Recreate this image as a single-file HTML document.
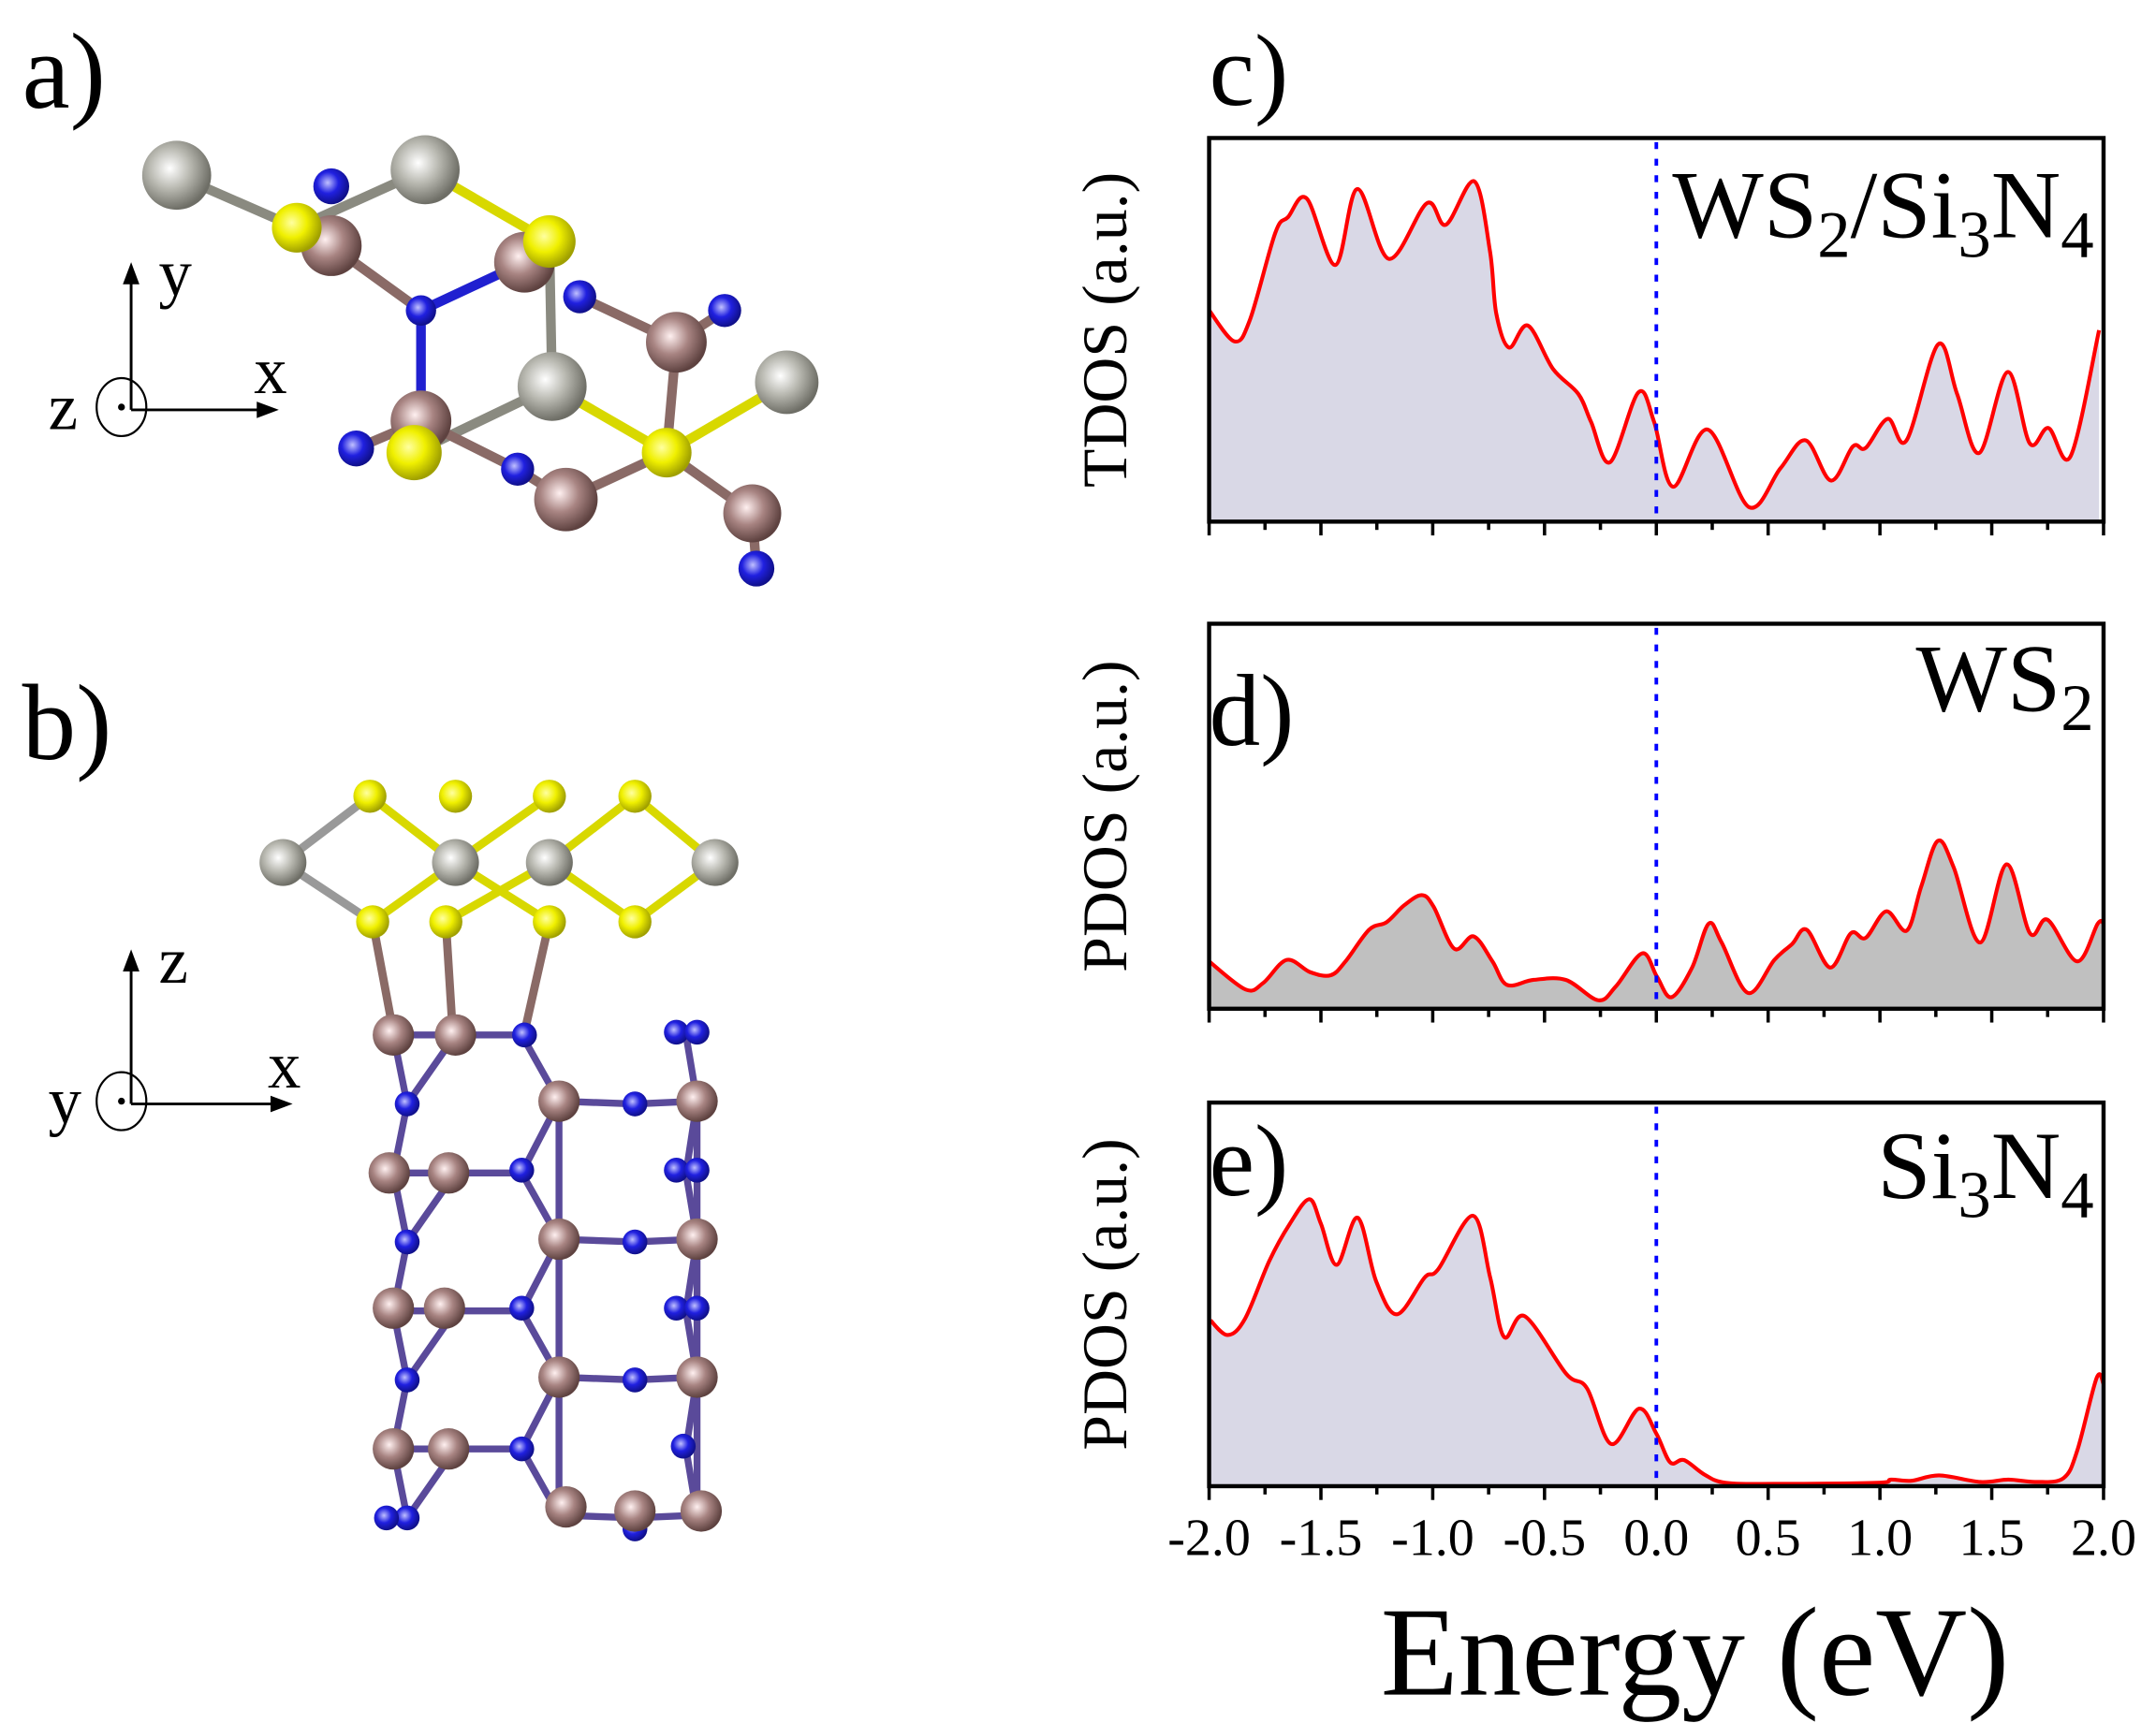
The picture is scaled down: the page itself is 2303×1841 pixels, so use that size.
<!DOCTYPE html>
<html><head><meta charset="utf-8"><style>
html,body{margin:0;padding:0;background:#fff;}
svg{display:block;}
text{font-family:"Liberation Serif",serif;fill:#000;}
</style></head><body>
<svg id="fig" width="2303" height="1841" viewBox="0 0 1562 1248.6" xmlns="http://www.w3.org/2000/svg">
<defs>
<radialGradient id="gW" cx="0.4" cy="0.4" r="0.6"><stop offset="0" stop-color="#ffffff"/><stop offset="0.5" stop-color="#b8b8b0"/><stop offset="1" stop-color="#6e6e66"/></radialGradient>
<radialGradient id="gS" cx="0.4" cy="0.4" r="0.6"><stop offset="0" stop-color="#ffffa0"/><stop offset="0.5" stop-color="#f0f000"/><stop offset="1" stop-color="#a0a000"/></radialGradient>
<radialGradient id="gSi" cx="0.4" cy="0.4" r="0.6"><stop offset="0" stop-color="#fff0f0"/><stop offset="0.5" stop-color="#a88482"/><stop offset="1" stop-color="#5e4240"/></radialGradient>
<radialGradient id="gN" cx="0.4" cy="0.4" r="0.6"><stop offset="0" stop-color="#c0c0ff"/><stop offset="0.5" stop-color="#2020e0"/><stop offset="1" stop-color="#10108a"/></radialGradient>
</defs>
<g id="mol"></g>
<g id="charts"></g>
</svg>
<script>
// ---------- chart data ----------
const tdosE = [-2.0,-1.887,-1.817,-1.704,-1.647,-1.563,-1.435,-1.337,-1.196,-1.026,-0.941,-0.814,-0.744,-0.716,-0.659,-0.574,-0.462,-0.349,-0.292,-0.207,-0.080,-0.010,0.075,0.230,0.414,0.555,0.668,0.781,0.879,0.936,1.035,1.119,1.260,1.345,1.444,1.571,1.670,1.754,1.853,1.980];
const tdosV = [0.551,0.470,0.527,0.753,0.794,0.842,0.669,0.867,0.685,0.830,0.774,0.887,0.705,0.543,0.454,0.511,0.398,0.333,0.260,0.155,0.337,0.260,0.091,0.240,0.038,0.139,0.212,0.107,0.196,0.192,0.268,0.212,0.462,0.333,0.179,0.390,0.204,0.244,0.171,0.499];
const ws2E = [-2.0,-1.837,-1.758,-1.653,-1.548,-1.456,-1.390,-1.285,-1.206,-1.127,-1.049,-0.996,-0.904,-0.817,-0.733,-0.668,-0.549,-0.405,-0.260,-0.181,-0.063,0.003,0.068,0.160,0.234,0.292,0.410,0.528,0.607,0.673,0.778,0.870,0.936,1.028,1.120,1.185,1.259,1.330,1.448,1.566,1.671,1.750,1.882,1.974,2.0];
const ws2V = [0.123,0.050,0.067,0.127,0.095,0.087,0.123,0.205,0.225,0.269,0.295,0.265,0.156,0.188,0.123,0.062,0.075,0.075,0.022,0.058,0.144,0.083,0.030,0.107,0.221,0.172,0.041,0.127,0.168,0.205,0.107,0.196,0.184,0.253,0.203,0.318,0.436,0.367,0.172,0.375,0.196,0.231,0.123,0.221,0.221];
const sinE = [-1.994,-1.917,-1.839,-1.731,-1.639,-1.552,-1.500,-1.429,-1.336,-1.253,-1.160,-1.036,-0.975,-0.820,-0.743,-0.681,-0.588,-0.403,-0.310,-0.202,-0.078,0.000,0.062,0.124,0.216,0.309,0.525,0.987,1.049,1.141,1.265,1.450,1.574,1.697,1.821,1.883,1.969,2.0];
const sinV = [0.432,0.394,0.437,0.587,0.684,0.748,0.684,0.577,0.700,0.534,0.448,0.544,0.566,0.705,0.544,0.389,0.443,0.293,0.255,0.110,0.202,0.137,0.062,0.068,0.030,0.009,0.006,0.009,0.017,0.014,0.028,0.011,0.017,0.011,0.021,0.094,0.282,0.266];
const xTicks = [-2.0,-1.5,-1.0,-0.5,0.0,0.5,1.0,1.5,2.0];
const xTickLabels = ["-2.0","-1.5","-1.0","-0.5","0.0","0.5","1.0","1.5","2.0"];

const NS="http://www.w3.org/2000/svg";
function mk(tag,attrs,parent){const e=document.createElementNS(NS,tag);for(const k in attrs)e.setAttribute(k,attrs[k]);parent.appendChild(e);return e;}
const charts=document.getElementById('charts');
const L=876,R=1524;
function xs(e){return L+(e+2)/4*(R-L);}
function smooth(pts){
  let d="M"+pts[0][0]+","+pts[0][1];
  for(let i=0;i<pts.length-1;i++){
    const p0=pts[Math.max(0,i-1)],p1=pts[i],p2=pts[i+1],p3=pts[Math.min(pts.length-1,i+2)];
    const c1x=p1[0]+(p2[0]-p0[0])/6,c1y=p1[1]+(p2[1]-p0[1])/6;
    const c2x=p2[0]-(p3[0]-p1[0])/6,c2y=p2[1]-(p3[1]-p1[1])/6;
    d+=" C"+c1x.toFixed(2)+","+c1y.toFixed(2)+" "+c2x.toFixed(2)+","+c2y.toFixed(2)+" "+p2[0].toFixed(2)+","+p2[1].toFixed(2);
  }
  return d;
}
function panel(name,T,B,E,V,fill,ylab,letter,letterY,title,titleY,showLabels){
  const g=mk('g',{},charts);
  
  
  const ys=v=>B-v*(B-T);
  const pts=E.map((e,i)=>[xs(e),ys(V[i])]);
  const line=smooth(pts);
  const area=mk('path',{d:line+" L"+pts[pts.length-1][0]+","+B+" L"+pts[0][0]+","+B+" Z",fill:fill,stroke:'none'},g);
  
  
  const ln=mk('path',{d:line,fill:'none',stroke:'#ff0000','stroke-width':2.8},g);
  
  
  const fl=mk('line',{x1:xs(0),x2:xs(0),y1:T+3,y2:B,stroke:'#0000ff','stroke-width':2.6,'stroke-dasharray':'5,7'},g);
  
  
  const fr=mk('rect',{x:L,y:T,width:R-L,height:B-T,fill:'none',stroke:'#000','stroke-width':3},g);
  
  
  for(let i=0;i<xTicks.length;i++){
    const t=mk('line',{x1:xs(xTicks[i]),x2:xs(xTicks[i]),y1:B,y2:B+10,stroke:'#000','stroke-width':2.4},g);
    
    
    if(i<xTicks.length-1){
      const m=(xTicks[i]+xTicks[i+1])/2;
      const t2=mk('line',{x1:xs(m),x2:xs(m),y1:B,y2:B+6,stroke:'#000','stroke-width':2.4},g);
      
      
    }
    if(showLabels){
      const tl=mk('text',{x:xs(xTicks[i]),y:B+50,'text-anchor':'middle','font-size':38},g);
      tl.textContent=xTickLabels[i];
      
      
    }
  }
  const cy=(T+B)/2;
  const yl=mk('text',{x:0,y:0,'text-anchor':'middle','font-size':46,transform:'translate(816,'+cy+') rotate(-90)'},g);
  yl.textContent=ylab;
  
  
  const lt=mk('text',{x:876,y:letterY,'font-size':74},g);
  lt.textContent=letter;
  
  
  const ti=mk('text',{x:1517,y:titleY,'text-anchor':'end','font-size':70},g);
  ti.innerHTML=title;
  
  
}
panel('tdos-panel',100,378,tdosE,tdosV,'#d9d8e6','TDOS (a.u.)','c)',76,'WS<tspan font-size="48" dy="14">2</tspan><tspan dy="-14">/Si</tspan><tspan font-size="48" dy="14">3</tspan><tspan dy="-14">N</tspan><tspan font-size="48" dy="14">4</tspan>',172,false);
panel('ws2-pdos-panel',452,731,ws2E,ws2V,'#c0c0c0','PDOS (a.u.)','d)',540,'WS<tspan font-size="48" dy="14">2</tspan>',515,false);
panel('si3n4-pdos-panel',799,1077,sinE,sinV,'#d9d8e6','PDOS (a.u.)','e)',866,'Si<tspan font-size="48" dy="14">3</tspan><tspan dy="-14">N</tspan><tspan font-size="48" dy="14">4</tspan>',868,true);
const xt=mk('text',{x:1228,y:1228,'text-anchor':'middle','font-size':92},charts);
xt.textContent='Energy (eV)';



// ---------- molecular structures (illustrative) ----------
const mol=document.getElementById('mol');
function bond(x1,y1,x2,y2,c,w){const b=mk('line',{x1,y1,x2,y2,stroke:c,'stroke-width':w||7,'stroke-linecap':'round'},mol);}
function atom(x,y,r,g){const a=mk('circle',{cx:x,cy:y,r:r,fill:'url(#'+g+')'},mol);}
// panel a
bond(128,127,215,165,'#8a8a80');bond(308,123,215,165,'#8a8a80');bond(308,123,398,175,'#d8d800');
bond(400,280,398,175,'#8a8a80');bond(400,280,300,328,'#8a8a80');bond(400,280,483,328,'#d8d800');bond(570,277,483,328,'#d8d800');
bond(240,178,305,225,'#8a6a66');bond(380,190,305,225,'#2020d0');bond(305,225,305,305,'#2020d0');
bond(420,215,490,248,'#8a6a66');bond(490,248,483,328,'#8a6a66');bond(490,248,525,225,'#8a6a66');
bond(305,305,375,340,'#8a6a66');bond(375,340,410,362,'#8a6a66');bond(410,362,483,328,'#8a6a66');bond(483,328,545,372,'#8a6a66');bond(545,372,548,412,'#8a6a66');bond(258,325,305,305,'#8a6a66');
atom(240,135,13,'gN');atom(420,215,12,'gN');atom(525,225,12,'gN');atom(258,325,13,'gN');atom(375,340,12,'gN');atom(548,412,13,'gN');
atom(240,178,22,'gSi');atom(380,190,22,'gSi');atom(490,248,22,'gSi');atom(305,305,22,'gSi');atom(410,362,23,'gSi');atom(545,372,21,'gSi');
atom(305,225,11,'gN');
atom(128,127,25,'gW');atom(308,123,25,'gW');atom(400,280,25,'gW');atom(570,277,23,'gW');
atom(215,165,18,'gS');atom(398,175,19,'gS');atom(300,328,20,'gS');atom(483,328,18,'gS');
// panel b
const byT=[[268,577],[330,577],[398,577],[460,577]],byB=[[270,668],[323,668],[398,668],[460,668]],bw=[[205,625],[330,625],[398,625],[518,625]];
bond(205,625,268,577,'#999',6);bond(268,577,330,625,'#d8d800',6);bond(330,625,398,577,'#d8d800',6);bond(398,625,460,577,'#d8d800',6);bond(460,577,518,625,'#d8d800',6);
bond(205,625,270,668,'#999',6);bond(270,668,330,625,'#d8d800',6);bond(330,625,398,668,'#d8d800',6);bond(398,625,323,668,'#d8d800',6);bond(398,625,460,668,'#d8d800',6);bond(460,668,518,625,'#d8d800',6);
bond(270,668,285,748,'#8a6a66',6);bond(323,668,328,748,'#8a6a66',6);bond(398,668,380,748,'#8a6a66',6);
const BC='#5a4a9a';
for(let i=0;i<4;i++){const y=750+i*100;
  bond(285,y,330,y,BC,5);bond(330,y,378,y,BC,5);bond(285,y,295,y+50,BC,5);bond(330,y,295,y+50,BC,5);
  bond(378,y,405,y+48,BC,5);bond(405,y+48,460,y+50,BC,5);bond(460,y+50,505,y+48,BC,5);bond(505,y+48,497,y,BC,5);
  if(i<3){bond(295,y+50,285,y+100,BC,5);bond(405,y+48,378,y+100,BC,5);bond(505,y+48,497,y+100,BC,5);bond(405,y+48,405,y+148,BC,5);bond(505,y+48,505,y+148,BC,5);}
}
const siA=[[285,750],[330,750],[282,850],[325,850],[285,948],[322,948],[285,1050],[325,1050],[405,798],[505,798],[405,898],[505,898],[405,998],[505,998],[410,1092],[460,1095],[508,1095]];
const nA=[[380,750],[295,800],[295,900],[295,1000],[295,1100],[378,848],[378,948],[378,1050],[460,800],[460,900],[460,1000],[490,748],[505,748],[490,848],[505,848],[490,948],[505,948],[495,1048],[280,1100],[460,1108]];
nA.forEach(p=>atom(p[0],p[1],9,'gN'));
siA.forEach(p=>atom(p[0],p[1],15,'gSi'));
bw.forEach(p=>atom(p[0],p[1],17,'gW'));
byT.concat(byB).forEach(p=>atom(p[0],p[1],12,'gS'));
// coordinate axes
function axes(ox,oy,up,right,lu,lr,lc,name){
  const g=mk('g',{},mol);
  
  
  mk('line',{x1:ox,y1:oy,x2:ox,y2:up+12,stroke:'#000','stroke-width':2},g);
  mk('path',{d:`M${ox-6},${up+16} L${ox},${up} L${ox+6},${up+16} Z`,fill:'#000'},g);
  mk('line',{x1:ox,y1:oy,x2:right-12,y2:oy,stroke:'#000','stroke-width':2},g);
  mk('path',{d:`M${right-16},${oy-6} L${right},${oy} L${right-16},${oy+6} Z`,fill:'#000'},g);
  mk('ellipse',{cx:ox-7,cy:oy-2,rx:18,ry:21,fill:'none',stroke:'#000','stroke-width':1.5},g);
  mk('circle',{cx:ox-7,cy:oy-2,r:2.5,fill:'#000'},g);
  const t1=mk('text',{x:ox+20,y:up+24,'font-size':48},g);t1.textContent=lu;
  const t2=mk('text',{x:right-18,y:oy-12,'font-size':48},g);t2.textContent=lr;
  const t3=mk('text',{x:ox-60,y:oy+14,'font-size':48},g);t3.textContent=lc;
}
axes(95,297,190,202,'y','x','z','axes-a');
axes(95,800,688,212,'z','x','y','axes-b');
const la=mk('text',{x:16,y:78,'font-size':78},mol);la.textContent='a)';


const lb=mk('text',{x:16,y:550,'font-size':78},mol);lb.textContent='b)';


</script>
</body></html>
